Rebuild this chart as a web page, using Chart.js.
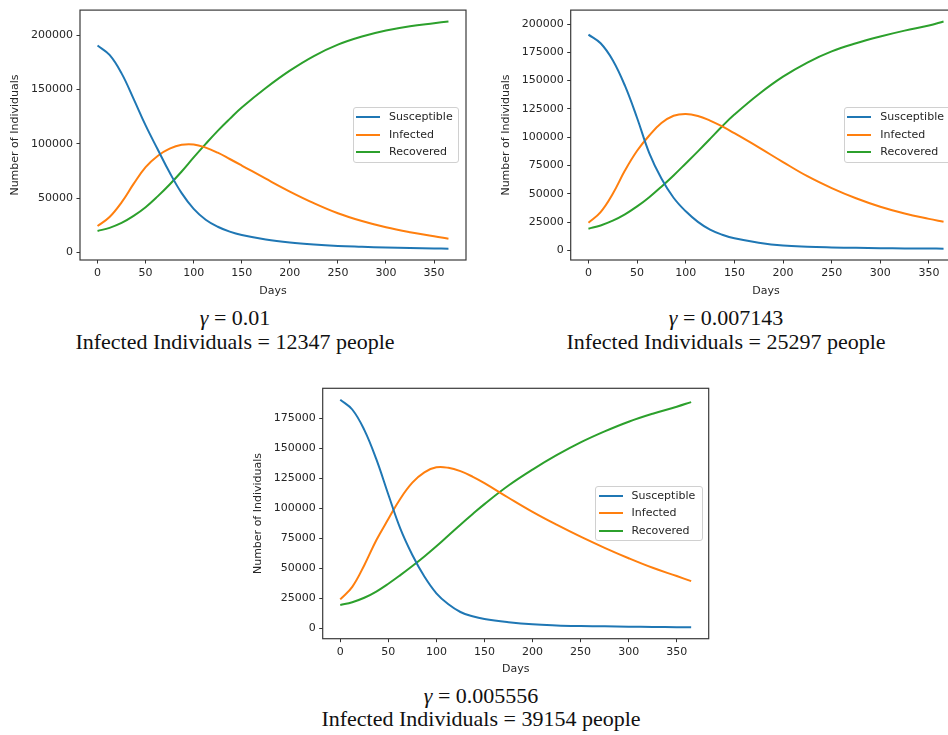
<!DOCTYPE html>
<html>
<head>
<meta charset="utf-8">
<script src="https://cdn.jsdelivr.net/npm/chart.js@4"></script>
<style>
  html, body { margin:0; padding:0; width:948px; height:735px; overflow:hidden; background:#fff; }
  .cv { position:absolute; }
  .cap { position:absolute; width:460px; text-align:center; font-family:"Liberation Serif","Times New Roman",serif;
         font-size:22px; line-height:24px; color:#111; white-space:nowrap; }
  .leg { position:absolute; background:rgba(255,255,255,0.8); border:1px solid #d0d0d0; border-radius:3px; box-sizing:border-box; }
  .leg .row { position:absolute; left:0; height:14px; }
  .leg .ln { position:absolute; height:2px; width:24px; }
  .leg .tx { position:absolute; font-family:"DejaVu Sans"; font-size:11px; line-height:14px; color:#262626; white-space:nowrap; }
</style>
</head>
<body>
<canvas id="c1" class="cv" style="left:0px;top:0px" width="474" height="300"></canvas>
<canvas id="c2" class="cv" style="left:474px;top:0px" width="500" height="300"></canvas>
<canvas id="c3" class="cv" style="left:240px;top:370px" width="480" height="310"></canvas>

<div class="cap" style="left:5px;top:306px"><i>γ</i> = 0.01</div>
<div class="cap" style="left:5px;top:330px">Infected Individuals = 12347 people</div>
<div class="cap" style="left:496px;top:306px"><i>γ</i> = 0.007143</div>
<div class="cap" style="left:496px;top:330px">Infected Individuals = 25297 people</div>
<div class="cap" style="left:251px;top:684px"><i>γ</i> = 0.005556</div>
<div class="cap" style="left:251px;top:707px">Infected Individuals = 39154 people</div>

<script>
// ---- data ----
const DAYS = [0, 12.5, 25, 37.5, 50, 62.5, 75, 87.5, 100, 112.5, 125, 137.5, 150, 175, 200, 225, 250, 275, 300, 325, 350, 365];
const SERIES_LABELS = ['Susceptible', 'Infected', 'Recovered'];
const X_TICKS = [0, 50, 100, 150, 200, 250, 300, 350];

// gamma = 0.01
const S1 = [190700, 182000, 165000, 141500, 117000, 95000, 73500, 54500, 40000, 30000, 23500, 19000, 15900, 11800, 9000, 7100, 5800, 5000, 4300, 3800, 3500, 3300];
const I1 = [24200, 32500, 46000, 63000, 78500, 88800, 95500, 99100, 99400, 96500, 91800, 86000, 80000, 67800, 56000, 45300, 36000, 28800, 23000, 18500, 14800, 12347];
const R1 = [19600, 22500, 27000, 33500, 41500, 51500, 62500, 74500, 87500, 100000, 112000, 123000, 133500, 151500, 167500, 181000, 191500, 199000, 204500, 208500, 211300, 212900];
const Y_TICKS_1 = [0, 50000, 100000, 150000, 200000];

// gamma = 0.007143
const S2 = [190700, 183000, 168000, 145500, 117000, 86000, 63500, 46500, 34500, 25200, 18300, 13800, 10600, 6800, 4300, 3200, 2600, 2200, 1900, 1700, 1600, 1500];
const I2 = [24400, 33800, 50000, 70500, 88000, 101500, 112500, 119000, 120600, 118800, 114700, 109500, 103500, 91000, 78000, 65500, 55000, 46000, 38500, 32500, 27800, 25297];
const R2 = [19100, 22000, 26200, 31800, 38800, 47000, 56300, 66200, 76800, 87500, 98500, 109700, 120000, 138000, 153500, 166000, 175800, 183000, 189000, 194200, 198700, 202300];
const Y_TICKS_2 = [0, 25000, 50000, 75000, 100000, 125000, 150000, 175000, 200000];

// gamma = 0.005556
const S3 = [190700, 182500, 165500, 141000, 111500, 83000, 61000, 43000, 29000, 19800, 13400, 9800, 7500, 4900, 3100, 2200, 1700, 1400, 1100, 900, 700, 600];
const I3 = [23900, 34400, 52500, 73300, 91000, 108000, 121400, 130000, 134200, 133800, 131000, 126500, 121000, 108800, 97000, 86300, 76300, 67000, 58300, 50300, 43400, 39154];
const R3 = [19200, 21600, 25300, 30500, 37000, 44200, 51800, 59800, 68300, 77300, 86300, 95000, 103500, 119000, 132300, 144300, 155000, 164200, 172300, 179000, 184800, 188700];
const Y_TICKS_3 = [0, 25000, 50000, 75000, 100000, 125000, 150000, 175000];

const COLORS = ['#1f77b4', '#ff7f0e', '#2ca02c'];
const TXT = '#262626';
const FONT = { family: 'DejaVu Sans', size: 11 };

const frame = {
  id: 'frame',
  afterDraw(chart) {
    const { ctx, chartArea: a } = chart;
    ctx.save();
    ctx.strokeStyle = '#3a3a3a';
    ctx.lineWidth = 1.2;
    ctx.strokeRect(a.left, a.top, a.right - a.left, a.bottom - a.top);
    ctx.restore();
  }
};

function makeChart(id, series, yTicks, g, legendGeom) {
  const all = [].concat(...series);
  const ymin = Math.min(...all), ymax = Math.max(...all);
  const ypad = 0.05 * (ymax - ymin);
  const xpad = 0.05 * (DAYS[DAYS.length - 1] - DAYS[0]);
  const datasets = series.map((arr, k) => ({
    label: SERIES_LABELS[k],
    data: DAYS.map((d, i) => ({ x: d, y: arr[i] })),
    borderColor: COLORS[k],
    backgroundColor: COLORS[k],
    borderWidth: 2,
    pointRadius: 0,
    fill: false,
    tension: 0.4
  }));
  const chart = new Chart(document.getElementById(id), {
    type: 'line',
    data: { datasets },
    options: {
      responsive: false,
      animation: false,
      events: [],
      layout: { padding: { left: 0, top: g.top, right: g.right, bottom: 0 } },
      plugins: { legend: { display: false }, tooltip: { enabled: false } },
      scales: {
        x: {
          type: 'linear',
          min: DAYS[0] - xpad, max: DAYS[DAYS.length - 1] + xpad,
          afterBuildTicks: s => { s.ticks = X_TICKS.map(v => ({ value: v })); },
          afterFit: s => { s.height = g.xh; },
          ticks: { font: FONT, color: TXT, padding: 3.5, maxRotation: 0, autoSkip: false, callback: v => String(v) },
          grid: { drawOnChartArea: false, drawTicks: true, tickLength: 3.5, color: '#333', tickWidth: 1 },
          border: { display: false },
          title: { display: true, text: 'Days', font: FONT, color: TXT, padding: { top: 0, bottom: g.xtb } }
        },
        y: {
          type: 'linear',
          min: ymin - ypad, max: ymax + ypad,
          afterBuildTicks: s => { s.ticks = yTicks.filter(v => v >= s.min && v <= s.max).map(v => ({ value: v })); },
          afterFit: s => { s.width = g.yw; },
          ticks: { font: FONT, color: TXT, padding: 3.5, autoSkip: false, callback: v => String(v) },
          grid: { drawOnChartArea: false, drawTicks: true, tickLength: 3.5, color: '#333', tickWidth: 1 },
          border: { display: false },
          title: { display: true, text: 'Number of Individuals', font: FONT, color: TXT, padding: { top: g.ytp, bottom: 0 } }
        }
      }
    },
    plugins: [frame]
  });
  // legend (HTML, generated from the chart's datasets)
  const box = document.createElement('div');
  box.className = 'leg';
  Object.assign(box.style, { left: legendGeom.left + 'px', top: legendGeom.top + 'px', width: legendGeom.w + 'px', height: legendGeom.h + 'px' });
  const rowsY = [10, 27.4, 44.7];
  chart.data.datasets.forEach((ds, k) => {
    const row = document.createElement('div');
    row.className = 'row';
    row.style.top = (rowsY[k] - 7 - 1) + 'px';
    const ln = document.createElement('div');
    ln.className = 'ln';
    ln.style.left = '2.3px'; ln.style.top = '6px'; ln.style.background = ds.borderColor;
    const tx = document.createElement('div');
    tx.className = 'tx';
    tx.style.left = '35.3px'; tx.style.top = '0px';
    tx.textContent = ds.label;
    row.appendChild(ln); row.appendChild(tx); box.appendChild(row);
  });
  document.body.appendChild(box);
  return chart;
}

Chart.defaults.font.family = 'DejaVu Sans';

makeChart('c1', [S1, I1, R1], Y_TICKS_1,
  { top: 9, right: 8, yw: 80, xh: 40, ytp: 8.4, xtb: 2.7 },
  { left: 352.7, top: 107.3, w: 106.6, h: 55.4 });
makeChart('c2', [S2, I2, R2], Y_TICKS_2,
  { top: 9.3, right: 12.7, yw: 96.7, xh: 40, ytp: 25.7, xtb: 2.7 },
  { left: 844, top: 107.3, w: 107, h: 55.4 });
makeChart('c3', [S3, I3, R3], Y_TICKS_3,
  { top: 18.3, right: 11.3, yw: 82.7, xh: 41.3, ytp: 11.7, xtb: 4.4 },
  { left: 595.3, top: 486, w: 107.4, h: 54.7 });
</script>
</body>
</html>
